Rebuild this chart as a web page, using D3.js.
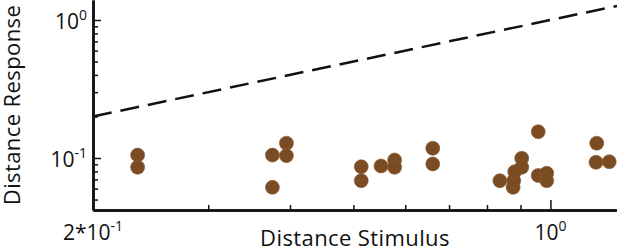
<!DOCTYPE html>
<html>
<head>
<meta charset="utf-8">
<script src="https://cdnjs.cloudflare.com/ajax/libs/d3/7.8.5/d3.min.js"></script>
<style>
  body { margin: 0; background: #fff; }
  svg { display: block; font-family: "Open Sans", sans-serif; }
</style>
</head>
<body>
<svg id="chart" width="617" height="250"></svg>
<script>
// values
const stimulus = [0.234, 0.234, 0.376, 0.395, 0.395, 0.376, 0.514, 0.514, 0.551, 0.578, 0.578,
  0.661, 0.661, 0.837, 0.877, 0.879, 0.882, 0.904, 0.904, 0.958, 0.958, 0.987, 0.987,
  1.177, 1.174, 1.23];
const response = [0.105, 0.0856, 0.105, 0.128, 0.104, 0.0613, 0.0865, 0.0685, 0.0875, 0.0967, 0.0856,
  0.1176, 0.0905, 0.0685, 0.0613, 0.0685, 0.0796, 0.0995, 0.0856, 0.155, 0.0747, 0.0775, 0.0685,
  0.128, 0.0931, 0.094];

// identity reference line (response = stimulus)
const refLine = [[0.2, 0.2], [1.264, 1.264]];

const xMajor = [1];
const xMinor = [0.3, 0.4, 0.5, 0.6, 0.7, 0.8, 0.9];
const yMajor = [0.1, 1];
const yMinor = [0.05, 0.06, 0.07, 0.08, 0.09, 0.2, 0.3, 0.4, 0.5, 0.6, 0.7, 0.8, 0.9];
const xTickLabels = [[0.2, "2*10", "-1"], [1, "10", "0"]];
const yTickLabels = [[0.1, "10", "-1"], [1, "10", "0"]];

const width = 617, height = 250;
const margin = { top: 0, right: 0, bottom: 40, left: 93 };
const dotColor = "#7b4b23";

const svg = d3.select("#chart");

const x = d3.scaleLog()
  .domain([0.2, 1.264])
  .range([margin.left, width - margin.right]);

const y = d3.scaleLog()
  .domain([0.042, 1.396])
  .range([height - margin.bottom, margin.top]);

// dashed identity line
svg.append("path")
  .datum(refLine)
  .attr("fill", "none")
  .attr("stroke", "#111")
  .attr("stroke-width", 2.5)
  .attr("stroke-dasharray", "19,9")
  .attr("d", d3.line().x(d => x(d[0])).y(d => y(d[1])));

// axes: minor and major ticks point inward
const gx = svg.append("g")
  .attr("transform", `translate(0,${height - margin.bottom})`);
gx.append("g").call(d3.axisBottom(x).tickValues(xMinor).tickSize(-5).tickSizeOuter(0).tickFormat(""));
gx.append("g").call(d3.axisBottom(x).tickValues(xMajor).tickSize(-10).tickSizeOuter(0).tickFormat(""));

const gy = svg.append("g")
  .attr("transform", `translate(${margin.left},0)`);
gy.append("g").call(d3.axisLeft(y).tickValues(yMinor).tickSize(-5).tickSizeOuter(0).tickFormat(""));
gy.append("g").call(d3.axisLeft(y).tickValues(yMajor).tickSize(-8).tickSizeOuter(0).tickFormat(""));

svg.selectAll(".tick line").attr("stroke", "#111").attr("stroke-width", 1.5);
svg.selectAll(".domain").attr("stroke", "#111").attr("stroke-width", 2.5);

// tick labels with superscript exponents
const xl = svg.append("g").selectAll("text")
  .data(xTickLabels)
  .enter()
  .append("text")
  .attr("x", d => x(d[0]))
  .attr("y", 240)
  .attr("text-anchor", "middle")
  .attr("font-size", 21)
  .attr("fill", "#111");
xl.append("tspan").text(d => d[1]);
xl.append("tspan").attr("dy", -9).attr("font-size", 14).text(d => d[2]);

const yl = svg.append("g").selectAll("text")
  .data(yTickLabels)
  .enter()
  .append("text")
  .attr("x", margin.left - 6)
  .attr("y", d => y(d[0]) + 9)
  .attr("text-anchor", "end")
  .attr("font-size", 21)
  .attr("fill", "#111");
yl.append("tspan").text(d => d[1]);
yl.append("tspan").attr("dy", -9).attr("font-size", 14).text(d => d[2]);

// axis titles
svg.append("text")
  .attr("x", (margin.left + width - margin.right) / 2)
  .attr("y", 246)
  .attr("text-anchor", "middle")
  .attr("font-size", 22)
  .attr("letter-spacing", 0.4)
  .attr("fill", "#111")
  .text("Distance Stimulus");

svg.append("text")
  .attr("transform", `translate(20,${(height - margin.bottom) / 2}) rotate(-90)`)
  .attr("text-anchor", "middle")
  .attr("font-size", 22)
  .attr("letter-spacing", 0.4)
  .attr("fill", "#111")
  .text("Distance Response");

// data points
svg.append("g").selectAll("circle")
  .data(stimulus.map((s, i) => [s, response[i]]))
  .enter()
  .append("circle")
  .attr("cx", d => x(d[0]))
  .attr("cy", d => y(d[1]))
  .attr("r", 7)
  .attr("fill", dotColor)
  .attr("stroke", "#8a5a32")
  .attr("stroke-width", 0.6);
</script>
</body>
</html>
